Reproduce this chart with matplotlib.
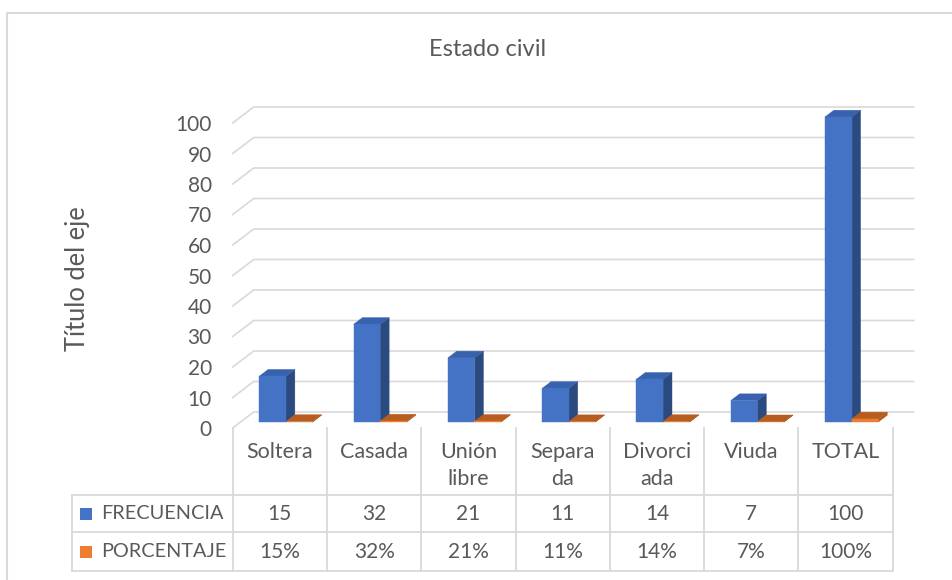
import numpy as np
import matplotlib
matplotlib.use("Agg")
import matplotlib.pyplot as plt
from matplotlib.patches import Polygon, Rectangle

plt.rcParams['font.family'] = ['Lato', 'DejaVu Sans']

# data
categorias = ["Soltera", "Casada", "Unión\nlibre", "Separa\nda", "Divorci\nada", "Viuda", "TOTAL"]
frecuencia = [15, 32, 21, 11, 14, 7, 100]
porcentaje = [0.15, 0.32, 0.21, 0.11, 0.14, 0.07, 1.00]
porcentaje_txt = ["15%", "32%", "21%", "11%", "14%", "7%", "100%"]
yticks = list(range(0, 101, 10))

TXT = "#595959"
GRID = "#D9D9D9"
FS = 15

W, H = 952, 580
fig = plt.figure(figsize=(W / 100, H / 100), dpi=100)

# main axes = front plane of the 3D chart
x_l, x_r = 232.7, 892.7
y_b, y_t = 428, 123
ax = fig.add_axes([x_l / W, 1 - y_b / H, (x_r - x_l) / W, (y_b - y_t) / H])
n = len(categorias)
ax.set_xlim(0, n)
ax.set_ylim(0, 100)
for s in ax.spines.values():
    s.set_visible(False)
ax.set_xticks([])
ax.set_yticks(yticks)
ax.tick_params(axis='y', length=0, pad=15, labelsize=FS, labelcolor=TXT)
ax.patch.set_alpha(0)

# depth offset of the back wall, in data units
DX = 21 / ((x_r - x_l) / n)
DY = 16 / ((y_b - y_t) / 100)

for k in yticks:
    ax.plot([0, DX, n + DX], [k, k + DY, k + DY], color=GRID, lw=1.2,
            clip_on=False, zorder=1)


def bar3d(x0, x1, v, d0, d1, front, side, top):
    pts_front = [(x0 + d0 * DX, d0 * DY), (x1 + d0 * DX, d0 * DY),
                 (x1 + d0 * DX, v + d0 * DY), (x0 + d0 * DX, v + d0 * DY)]
    pts_side = [(x1 + d0 * DX, d0 * DY), (x1 + d1 * DX, d1 * DY),
                (x1 + d1 * DX, v + d1 * DY), (x1 + d0 * DX, v + d0 * DY)]
    pts_top = [(x0 + d0 * DX, v + d0 * DY), (x1 + d0 * DX, v + d0 * DY),
               (x1 + d1 * DX, v + d1 * DY), (x0 + d1 * DX, v + d1 * DY)]
    for pts, c in ((pts_side, side), (pts_top, top), (pts_front, front)):
        ax.add_patch(Polygon(pts, closed=True, facecolor=c, edgecolor=c,
                             lw=0.3, clip_on=False, zorder=3))


g0 = 0.198
bw = 0.283
d0, d1 = 0.375, 0.80
for i in range(n):
    bar3d(i + g0, i + g0 + bw, frecuencia[i], d0, d1,
          "#4472C4", "#2B4A80", "#3862AE")
    bar3d(i + g0 + bw, i + g0 + 2 * bw, porcentaje[i], d0, d1,
          "#ED7D31", "#B35A1F", "#B85D20")

ax.set_ylabel("Título del eje", fontsize=18.4, color=TXT)
ax.yaxis.set_label_coords(78 / W, 1 - 279 / H, transform=fig.transFigure)
ax.yaxis.label.set_verticalalignment('center')

# overlay in pixel coordinates for table, title, border
ov = fig.add_axes([0, 0, 1, 1])
ov.set_xlim(0, W)
ov.set_ylim(H, 0)
ov.axis('off')
ov.patch.set_alpha(0)

# chart border
ov.plot([7, 7, W], [H, 13, 13], color=GRID, lw=1.5)

ov.text(488, 50, "Estado civil", ha='center', va='center', fontsize=17, color=TXT)

# data table
col_w = (x_r - x_l) / n
cols = [x_l + col_w * i for i in range(n + 1)]
t_left = 72.3
rows = [495, 532, 571]
for y in rows:
    ov.plot([t_left, x_r], [y, y], color=GRID, lw=1.3)
for x in cols:
    ov.plot([x, x], [428, rows[-1]], color=GRID, lw=1.3)
ov.plot([t_left, t_left], [rows[0], rows[-1]], color=GRID, lw=1.3)

for i, c in enumerate(categorias):
    cx = cols[i] + col_w / 2
    ov.text(cx, 442, c, ha='center', va='top', fontsize=15.5, color=TXT,
            linespacing=1.42)
    ov.text(cx, (rows[0] + rows[1]) / 2, str(frecuencia[i]), ha='center',
            va='center', fontsize=FS, color=TXT)
    ov.text(cx, (rows[1] + rows[2]) / 2, porcentaje_txt[i], ha='center',
            va='center', fontsize=FS, color=TXT)

series = [("FRECUENCIA", "#4472C4"), ("PORCENTAJE", "#ED7D31")]
for j, (name, col) in enumerate(series):
    yc = (rows[j] + rows[j + 1]) / 2
    ov.add_patch(Rectangle((80, yc - 6), 12, 12, facecolor=col, edgecolor='none'))
    ov.text(101, yc, name, ha='left', va='center', fontsize=14.3, color=TXT)

fig.savefig("out.png", dpi=100)
